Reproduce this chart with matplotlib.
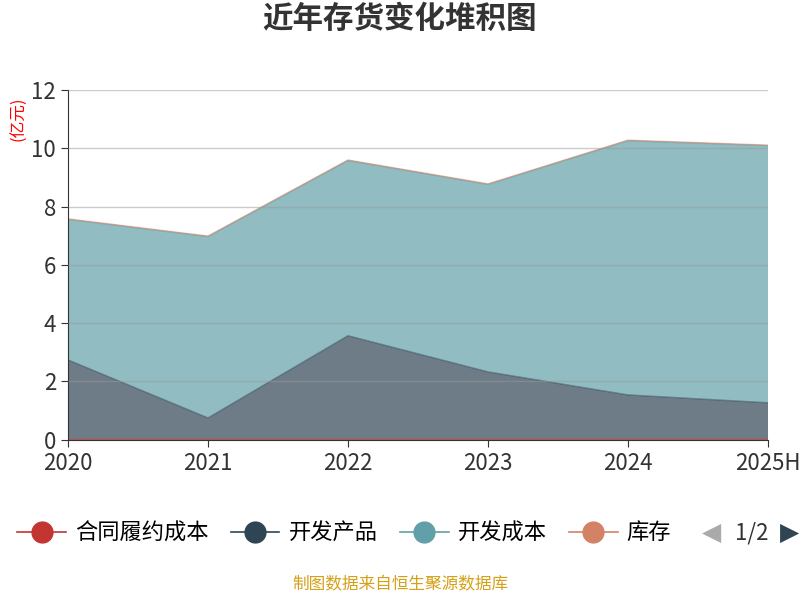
import matplotlib
matplotlib.use("Agg")
import matplotlib.pyplot as plt
from matplotlib.lines import Line2D
import numpy as np

plt.rcParams['font.family'] = ['Noto Sans CJK SC', 'DejaVu Sans']

years = ["2020", "2021", "2022", "2023", "2024", "2025H"]
contract_cost = [0.02, 0.02, 0.02, 0.02, 0.02, 0.02]
dev_products = [2.72, 0.73, 3.55, 2.31, 1.52, 1.25]
dev_cost = [4.82, 6.22, 6.01, 6.43, 8.72, 8.82]
inventory = [0.02, 0.02, 0.02, 0.02, 0.02, 0.02]
names = ["合同履约成本", "开发产品", "开发成本", "库存"]
colors = ["#c23531", "#2f4554", "#61a0a8", "#d48265"]

fig = plt.figure(figsize=(8, 6), dpi=100)
ax = fig.add_axes([0.085, 0.267, 0.875, 0.583])
x = np.arange(len(years))
ax.stackplot(x, contract_cost, dev_products, dev_cost, inventory,
             colors=colors, alpha=0.7, linewidth=0)
tops = np.cumsum([contract_cost, dev_products, dev_cost, inventory], axis=0)
for t, c in zip(tops, colors):
    ax.plot(x, t, color=c, lw=1, alpha=0.5)
ax.set_xlim(0, 5)
ax.set_ylim(0, 12)
ax.set_yticks(range(0, 13, 2))
ax.set_xticks(x)
ax.set_xticklabels(years)
ax.grid(axis='y', color='#999999', lw=1, alpha=0.5)
ax.set_axisbelow(False)
for s in ['top', 'right']:
    ax.spines[s].set_visible(False)
for s in ['left', 'bottom']:
    ax.spines[s].set_color('#333333')
ax.tick_params(labelsize=16, colors='#333333', length=5)
ax.text(-0.07, 0.98, "(亿元)", transform=ax.transAxes, rotation=90,
        color='red', fontsize=12, ha='center', va='top')
fig.suptitle("近年存货变化堆积图", fontsize=22, fontweight='bold', color='#333333', y=0.995)

handles = [Line2D([0], [0], color=c, marker='o', markersize=15, lw=1.2) for c in colors]
fig.legend(handles, names, loc='center', bbox_to_anchor=(0.43, 0.112), ncol=4,
           frameon=False, fontsize=16, handlelength=2.2, columnspacing=1.0, handletextpad=0.4)
fig.text(0.94, 0.112, "1/2", fontsize=16, color='#333333', ha='center', va='center')
fig.text(0.902, 0.112, "◀", fontsize=18, color='#aaaaaa', ha='right', va='center', family='DejaVu Sans')
fig.text(0.975, 0.112, "▶", fontsize=18, color='#2f4554', ha='left', va='center', family='DejaVu Sans')
fig.text(0.5, 0.018, "制图数据来自恒生聚源数据库", color='#d4a017', fontsize=12, ha='center')
fig.savefig("out.png")
